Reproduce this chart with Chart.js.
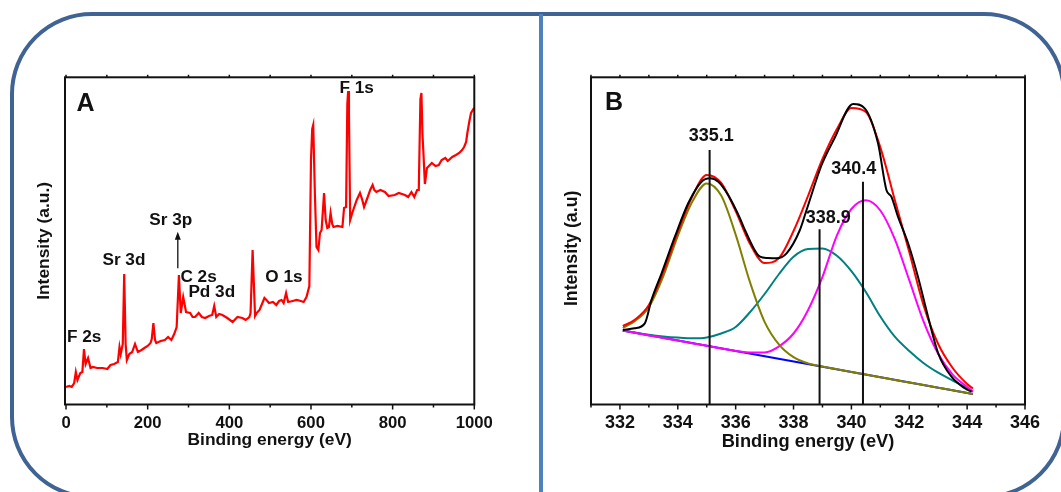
<!DOCTYPE html>
<html>
<head>
<meta charset="utf-8">
<title>XPS spectra</title>
<script src="https://cdn.jsdelivr.net/npm/chart.js@4.4.0/dist/chart.umd.min.js"></script>
<style>
  html, body { margin: 0; padding: 0; background: #fff; }
  body { width: 1061px; height: 492px; position: relative; overflow: hidden; }
  #frame { position: absolute; left: 10px; top: 12px; width: 1056px; height: 487px; box-sizing: border-box;
           border: 4px solid #3f6494; border-radius: 82px; }
  #divider { position: absolute; left: 539px; top: 14px; width: 4px; height: 480px; background: #4f81bd; }
  #chartA { position: absolute; left: 0; top: 0; }
  #chartB { position: absolute; left: 545px; top: 0; }
</style>
</head>
<body>
<div id="frame"></div>
<div id="divider"></div>
<canvas id="chartA" width="545" height="492"></canvas>
<canvas id="chartB" width="516" height="492"></canvas>
<script>
const FONT = "'Liberation Sans', Arial, Helvetica, sans-serif";

// ---- Panel A: survey spectrum ----
const surveyEnergy = [0, 8, 14, 20, 24, 28, 35, 40, 44, 48, 54, 60, 66, 76, 90, 101, 109, 118, 127, 131, 134, 139, 142.5, 146, 149, 155,
  162, 169, 176, 185, 192, 200, 207, 210, 214, 218, 221, 232, 242, 250, 258, 265, 271, 276.5, 281, 287, 294, 304, 310, 316, 325,
  333, 341, 350, 358, 363, 368, 375, 383, 395, 408, 420, 432, 440, 449, 452, 457, 463, 467, 474, 480, 486, 491, 497, 507, 515,
  522, 528, 533, 539, 544, 555, 565, 575, 582, 589, 596, 600, 603, 605.5, 609.5, 613.5, 618, 622, 626, 632, 636, 640, 644, 648,
  652, 655, 665, 677, 681, 686, 689, 691, 693, 696, 701, 712, 720, 725, 730, 739, 745, 751, 755, 760, 770, 781, 790, 805, 815,
  830, 838, 846, 853, 860, 864, 868, 870.5, 873, 875.5, 879, 884, 896, 905, 913, 920, 929, 935, 946, 955, 963, 970, 975, 980,
  983, 988, 992, 998, 1000];
const surveyIntensity = [17, 18, 17, 21, 32, 24, 31, 32, 55, 40, 46, 36, 37, 36, 36, 35, 39, 40, 42, 57, 50, 60, 130, 60, 44, 50,
  52, 60, 52, 54, 56, 58, 61, 65, 81, 64, 61, 63, 64, 67, 64, 70, 77, 129, 91, 107, 92, 91, 87, 87, 91,
  87, 86, 88, 89, 98, 87, 90, 89, 86, 82, 87, 86, 84, 87, 91, 154, 88, 91, 94, 100, 106, 104, 101, 102, 99,
  103, 104, 101, 111, 102, 103, 104, 103, 102, 107, 118, 244, 275, 279, 211, 157, 154, 171, 174, 211, 184, 176, 177, 191,
  180, 177, 178, 177, 196, 197, 300, 313, 290, 184, 191, 204, 211, 205, 197, 207, 214, 219, 214, 212, 214, 212, 208, 209, 211,
  209, 207, 212, 207, 214, 214, 305, 311, 270, 250, 220, 236, 241, 238, 239, 244, 246, 243, 247, 249, 251, 254, 257, 262,
  271, 283, 291, 295, 296];
const surveyLabels = ['F 2s', 'Sr 3d', 'Sr 3p', 'C 2s', 'Pd 3d', 'O 1s', 'F 1s'];
const surveyTickValues = [0, 100, 200, 300, 400, 500, 600, 700, 800, 900, 1000];
const surveyTickLabels = [0, 200, 400, 600, 800, 1000];

// ---- Panel B: Pd 3d high resolution ----
const measuredEnergy = [332.1, 332.5, 332.86, 333.09, 333.44, 333.9, 334.36, 334.82, 335.11, 335.4, 335.74, 336.15, 336.32,
  336.84, 337.1, 337.41, 337.76, 338.22, 338.45, 338.97, 339.42, 340.06, 340.46, 340.92, 341.21, 341.38, 341.61, 341.96,
  342.3, 342.65, 343.0, 343.46, 343.92, 344.15];
const measuredIntensity = [76, 77.7, 82.7, 106, 132.7, 169.3, 202.7, 224.3, 227.7, 224.3, 211, 187.7, 176,
  149.3, 148, 147.7, 152.7, 176, 196, 241, 268, 302, 297.7, 262.7, 216, 209.3, 189.3, 162.7,
  129.3, 89.3, 52.7, 29.3, 17.7, 14.3];
const fitEnergy = [332.1, 332.5, 333, 333.5, 334, 334.5, 335, 335.5, 336, 336.5, 337, 337.5, 338, 338.5, 339, 339.5,
  340, 340.5, 341, 341.5, 342, 342.5, 343, 343.5, 344, 344.2];
const fitEnvelope = [80, 86, 101, 134, 174, 209.5, 231, 223, 195, 162, 143, 148, 175, 210, 247, 277,
  298, 294, 258.6, 206, 154, 100, 62, 38, 22, 17.5];
const peak335 = [78, 84.6, 98.9, 130, 170.2, 204.2, 222.6, 210.4, 171.4, 123.4, 84.2, 61.4, 48.8, 42.6, 39.5, 36.7,
  34.0, 31.4, 28.8, 26.1, 23.5, 20.9, 18.3, 15.7, 13.0, 12.0];
const peak339 = [75.3, 73.5, 71.3, 69.6, 68.4, 67.7, 68.6, 72.5, 79, 94, 112, 132, 149.3, 157, 157.6, 150.3,
  134.9, 114, 89.5, 69.3, 55, 42.8, 33.3, 25.4, 18, 14.5];
const peak340 = [75.4, 73.3, 70.6, 68.0, 65.4, 62.8, 60.2, 57.6, 55.0, 53.5, 53.6, 59.7, 72.5, 95.8, 129.1, 170.7,
  197, 205.7, 195.5, 166.9, 125.8, 84.1, 52.2, 31.4, 19, 14.3];
const backgroundEnergy = [332.1, 344.2];
const backgroundIntensity = [75.4, 12.0];
const peakCenters = [335.1, 338.9, 340.4];
const peakMarkerTops = [256, 176.7, 224.3];
const hrTickValues = [331, 332, 333, 334, 335, 336, 337, 338, 339, 340, 341, 342, 343, 344, 345, 346];
const hrTickLabels = [332, 334, 336, 338, 340, 342, 344, 346];

Chart.defaults.font.family = FONT;
Chart.defaults.color = '#111';

const toPoints = (xs, ys) => xs.map((x, i) => ({ x: x, y: ys[i] }));

// box round the plot area + bottom/top tick marks
const framePlugin = {
  id: 'frame',
  afterDraw(chart, args, opts) {
    const { ctx, chartArea: { left, right, top, bottom }, scales: { x } } = chart;
    ctx.save();
    ctx.strokeStyle = '#111';
    ctx.lineWidth = 2;
    ctx.strokeRect(left, top, right - left, bottom - top);
    ctx.lineWidth = 1.5;
    x.ticks.forEach(t => {
      const px = x.getPixelForValue(t.value);
      const major = opts.major.includes(t.value);
      ctx.beginPath();
      ctx.moveTo(px, bottom);
      ctx.lineTo(px, bottom + (major ? 5 : 3));
      ctx.moveTo(px, top);
      ctx.lineTo(px, top - 2.5);
      ctx.stroke();
    });
    ctx.restore();
  }
};

// text labels and arrows placed in data coordinates
const annotPlugin = {
  id: 'annot',
  afterDatasetsDraw(chart, args, opts) {
    const { ctx, scales: { x, y } } = chart;
    ctx.save();
    ctx.fillStyle = '#111';
    ctx.strokeStyle = '#111';
    ctx.textAlign = 'center';
    ctx.textBaseline = 'middle';
    (opts.texts || []).forEach(t => {
      ctx.font = 'bold ' + t.size + 'px ' + FONT;
      ctx.fillText(t.text, x.getPixelForValue(t.x), y.getPixelForValue(t.y));
    });
    (opts.arrows || []).forEach(a => {
      const px = x.getPixelForValue(a.x);
      const y0 = y.getPixelForValue(a.from);
      const y1 = y.getPixelForValue(a.to);
      ctx.lineWidth = 1.3;
      ctx.beginPath();
      ctx.moveTo(px, y0);
      ctx.lineTo(px, y1 + 5);
      ctx.stroke();
      ctx.beginPath();
      ctx.moveTo(px, y1);
      ctx.lineTo(px - 3, y1 + 8);
      ctx.lineTo(px + 3, y1 + 8);
      ctx.closePath();
      ctx.fill();
    });
    ctx.restore();
  }
};

function axisFont(size) { return { family: FONT, size: size, weight: 'bold' }; }

// Grafica A: espectro completo
new Chart(document.getElementById('chartA'), {
  type: 'line',
  data: {
    datasets: [{
      data: toPoints(surveyEnergy, surveyIntensity),
      borderColor: '#ff0000', borderWidth: 2.2, pointRadius: 0, tension: 0
    }]
  },
  options: {
    responsive: false, animation: false,
    layout: { padding: { left: 0, top: 77.3, right: 70.7, bottom: 0 } },
    plugins: {
      legend: { display: false }, tooltip: { enabled: false },
      frame: { major: surveyTickLabels },
      annot: {
        texts: [
          { text: 'A', x: 47.8, y: 300, size: 25 },
          { text: surveyLabels[0], x: 44.6, y: 66.7, size: 17.2 },
          { text: surveyLabels[1], x: 141.8, y: 144, size: 17.2 },
          { text: surveyLabels[2], x: 256.4, y: 184, size: 17.2 },
          { text: surveyLabels[3], x: 324.7, y: 126.7, size: 17.2 },
          { text: surveyLabels[4], x: 357, y: 111.7, size: 17.2 },
          { text: surveyLabels[5], x: 533.9, y: 126.7, size: 17.2 },
          { text: surveyLabels[6], x: 711.9, y: 315.7, size: 17.2 }
        ],
        arrows: [{ x: 273.8, from: 135.7, to: 172.3 }]
      }
    },
    scales: {
      x: {
        type: 'linear', min: -2.5, max: 1000,
        afterFit: s => { s.height = 87.5; },
        afterBuildTicks: s => { s.ticks = surveyTickValues.map(v => ({ value: v })); },
        grid: { display: false, drawTicks: false }, border: { display: false },
        ticks: {
          autoSkip: false, maxRotation: 0, padding: 9.3,
          color: '#111', font: axisFont(16.7),
          callback: v => surveyTickLabels.includes(v) ? String(v) : ''
        },
        title: { display: true, text: 'Binding energy (eV)', color: '#111', font: axisFont(17.4), padding: { top: 0, bottom: 41.6 } }
      },
      y: {
        min: -0.5, max: 326.7,
        afterFit: s => { s.width = 65; },
        grid: { display: false, drawTicks: false }, border: { display: false },
        ticks: { display: false },
        title: { display: true, text: 'Intensity (a.u.)', color: '#111', font: axisFont(17.4), padding: { top: 33.6, bottom: 0 } }
      }
    }
  },
  plugins: [framePlugin, annotPlugin]
});

// Grafica B: Pd 3d con ajuste
const markerSets = peakCenters.map((c, i) => ({
  data: [{ x: c, y: 1.5 }, { x: c, y: peakMarkerTops[i] }],
  borderColor: '#111', borderWidth: 2, pointRadius: 0, order: 0
}));
const curve = (pts, color, order) => ({
  data: pts, borderColor: color, borderWidth: 2, pointRadius: 0,
  cubicInterpolationMode: 'monotone', order: order
});

new Chart(document.getElementById('chartB'), {
  type: 'line',
  data: {
    datasets: [
      ...markerSets,
      curve(toPoints(measuredEnergy, measuredIntensity), '#000000', 1),
      curve(toPoints(fitEnergy, fitEnvelope), '#ff0000', 2),
      curve(toPoints(fitEnergy, peak335), '#808000', 3),
      curve(toPoints(fitEnergy, peak340), '#ff00ff', 4),
      curve(toPoints(fitEnergy, peak339), '#008080', 5),
      curve(toPoints(backgroundEnergy, backgroundIntensity), '#0000ff', 6)
    ]
  },
  options: {
    responsive: false, animation: false,
    layout: { padding: { left: 0, top: 77.3, right: 36, bottom: 0 } },
    plugins: {
      legend: { display: false }, tooltip: { enabled: false },
      frame: { major: hrTickLabels },
      annot: {
        texts: [
          { text: 'B', x: 331.8, y: 302.5, size: 25 },
          { text: peakCenters[0].toFixed(1), x: 335.16, y: 269.5, size: 18 },
          { text: peakCenters[1].toFixed(1), x: 339.2, y: 188, size: 18 },
          { text: peakCenters[2].toFixed(1), x: 340.08, y: 237, size: 18 }
        ]
      }
    },
    scales: {
      x: {
        type: 'linear', min: 331, max: 346,
        afterFit: s => { s.height = 87.5; },
        afterBuildTicks: s => { s.ticks = hrTickValues.map(v => ({ value: v })); },
        grid: { display: false, drawTicks: false }, border: { display: false },
        ticks: {
          autoSkip: false, maxRotation: 0, padding: 8,
          color: '#111', font: axisFont(18),
          callback: v => hrTickLabels.includes(v) ? String(v) : ''
        },
        title: { display: true, text: 'Binding energy (eV)', color: '#111', font: axisFont(18.3), padding: { top: 0, bottom: 39.2 } }
      },
      y: {
        min: 1.5, max: 328.7,
        afterFit: s => { s.width = 46; },
        grid: { display: false, drawTicks: false }, border: { display: false },
        ticks: { display: false },
        title: { display: true, text: 'Intensity (a.u)   ', color: '#111', font: axisFont(17.8), padding: { top: 16.2, bottom: 0 } }
      }
    }
  },
  plugins: [framePlugin, annotPlugin]
});
</script>
</body>
</html>
